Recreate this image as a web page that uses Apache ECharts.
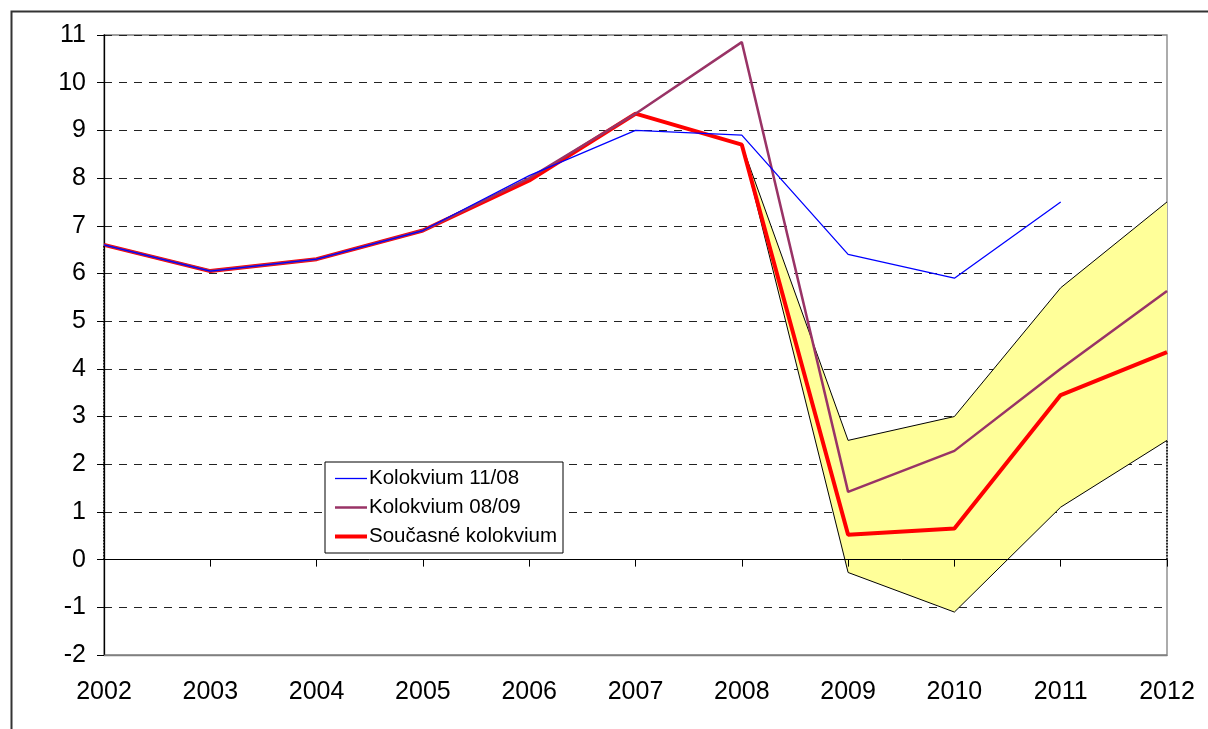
<!DOCTYPE html>
<html>
<head>
<meta charset="utf-8">
<script src="https://cdn.jsdelivr.net/npm/echarts@6/dist/echarts.min.js"></script>
<style>
html,body{margin:0;padding:0;background:#fff;}
#chart{width:1208px;height:729px;}
</style>
</head>
<body>
<div id="chart"></div>
<script>
var years = ['2002','2003','2004','2005','2006','2007','2008','2009','2010','2011','2012'];
var kolokvium1108 = [6.6, 6.05, 6.3, 6.9, 8.05, 9.0, 8.9, 6.4, 5.9, 7.5, null];
var kolokvium0809 = [6.6, 6.05, 6.3, 6.9, 8.0, 9.35, 10.85, 1.42, 2.28, 4.0, 5.63];
var soucasne = [6.6, 6.05, 6.3, 6.9, 7.95, 9.35, 8.7, 0.52, 0.65, 3.45, 4.35];
var bandLower = [6.6, 6.05, 6.3, 6.9, 7.95, 9.35, 8.7, -0.27, -1.1, 1.1, 2.5];
var bandUpper = [6.6, 6.05, 6.3, 6.9, 7.95, 9.35, 8.7, 2.5, 3.0, 5.7, 7.5];
var yTicks = {min: -2, max: 11, step: 1};
var legendNames = ['Kolokvium 11/08', 'Kolokvium 08/09', 'Současné kolokvium'];

var bandDiff = bandUpper.map(function (u, i) { return +(u - bandLower[i]).toFixed(3); });
var last = years.length - 1;
var font = 'Liberation Sans, Arial, sans-serif';
var colors = ['#0000FF', '#993366', '#FF0000'];
var widths = [1.3, 2.5, 4];

var chart = echarts.init(document.getElementById('chart'), null, {renderer: 'canvas'});
chart.setOption({
  animation: false,
  backgroundColor: '#fff',
  graphic: [{
    type: 'rect', left: 9, top: 9, z: 100,
    shape: {width: 1300, height: 800},
    style: {fill: 'none', stroke: '#333', lineWidth: 2}
  }],
  grid: {left: 104, right: 41, top: 35, bottom: 74, show: true, borderColor: '#808080', borderWidth: 1.3},
  legend: {
    data: legendNames.map(function (n, i) {
      return {name: n, lineStyle: {color: colors[i], width: widths[i]}};
    }),
    orient: 'vertical',
    left: 325, top: 462,
    width: 236,
    padding: [6, 6, 6, 8],
    itemGap: 8,
    itemWidth: 32, itemHeight: 14,
    borderColor: '#000', borderWidth: 1,
    backgroundColor: '#fff',
    itemStyle: {opacity: 0},
    textStyle: {fontFamily: font, fontSize: 20.5, color: '#000', padding: [0, 0, 0, -3]},
    z: 50
  },
  xAxis: [{
    type: 'category', data: years, boundaryGap: false,
    position: 'bottom',
    axisLine: {onZero: false, lineStyle: {color: '#808080', width: 1.3}},
    axisTick: {show: false},
    axisLabel: {fontFamily: font, fontSize: 25, color: '#000', margin: 25},
    splitLine: {show: false}
  }, {
    type: 'category', data: years, boundaryGap: false,
    position: 'bottom',
    axisLine: {onZero: true, lineStyle: {color: '#000', width: 1}},
    axisTick: {show: true, length: 7, lineStyle: {color: '#000'}},
    axisLabel: {show: false},
    splitLine: {show: false},
    z: 5
  }],
  yAxis: {
    type: 'value', min: yTicks.min, max: yTicks.max, interval: yTicks.step,
    axisLine: {show: true, onZero: false, lineStyle: {color: '#000', width: 1.3}},
    axisTick: {show: true, length: 7, lineStyle: {color: '#000'}},
    axisLabel: {fontFamily: font, fontSize: 25, color: '#000', margin: 18},
    splitLine: {show: true, lineStyle: {color: '#222', width: 1, type: [8, 7]}}
  },
  series: [{
    name: 'bandLower', type: 'line', data: bandLower, stack: 'band', stackStrategy: 'all',
    symbol: 'none', lineStyle: {color: '#000', width: 1}, z: 2,
    markLine: {
      silent: true, symbol: 'none', label: {show: false},
      lineStyle: {color: '#000', type: 'dotted', width: 1.5},
      data: [
        [{coord: [years[0], 0]}, {coord: [years[0], bandLower[0]]}],
        [{coord: [years[last], 0]}, {coord: [years[last], bandLower[last]]}]
      ]
    }
  }, {
    name: 'bandDiff', type: 'line', data: bandDiff, stack: 'band', stackStrategy: 'all',
    symbol: 'none', lineStyle: {color: '#000', width: 1},
    areaStyle: {color: '#FFFF99', opacity: 1}, z: 2
  }, {
    name: legendNames[2], type: 'line', data: soucasne, symbol: 'none',
    itemStyle: {color: colors[2]},
    lineStyle: {color: colors[2], width: widths[2]}, z: 3
  }, {
    name: legendNames[1], type: 'line', data: kolokvium0809, symbol: 'none',
    itemStyle: {color: colors[1]},
    lineStyle: {color: colors[1], width: widths[1]}, z: 4
  }, {
    name: legendNames[0], type: 'line', data: kolokvium1108, symbol: 'none',
    itemStyle: {color: colors[0]},
    lineStyle: {color: colors[0], width: widths[0]}, z: 5
  }]
});
</script>
</body>
</html>
